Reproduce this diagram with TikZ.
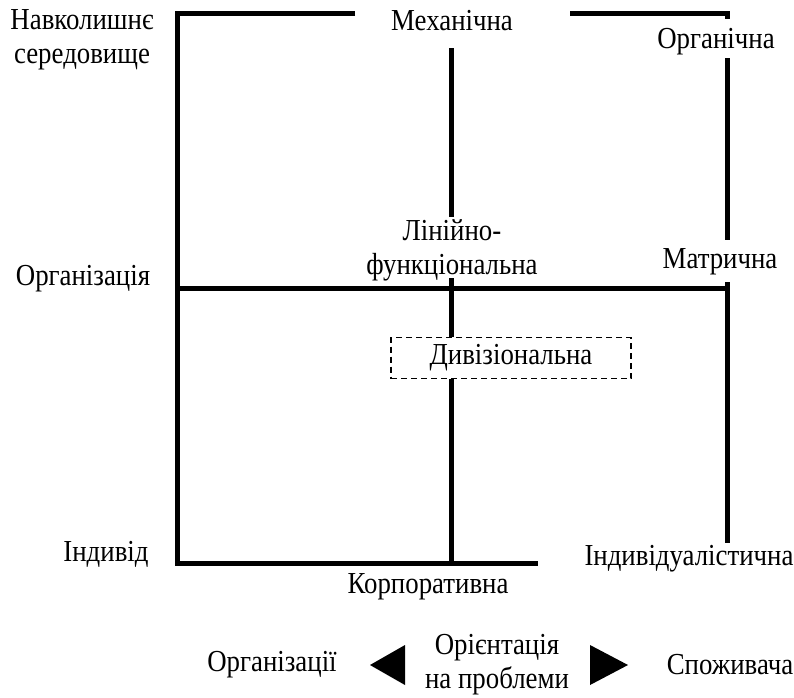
\documentclass[tikz,border=0pt]{standalone}
\usepackage{fontspec}
\setmainfont{Liberation Serif}[FakeStretch=0.88]
\usetikzlibrary{positioning}
\tikzset{%
axis/.style={line width=5pt},
lbl/.style={font=\fontsize{30.5}{34}\selectfont,inner sep=1pt,align=center},
divbox/.style={draw,dash pattern=on 6pt off 4pt,line width=1.8pt,minimum width=240pt,minimum height=41pt,font=\fontsize{30.5}{34}\selectfont},
pointer/.style={fill=black}
}

\begin{document}
\begin{tikzpicture}[x=1pt,y=-1pt]

    \useasboundingbox (0,0) rectangle (794,697);

    % corners and line ends
    \coordinate (topa) at (355,13);
    \coordinate (tl) at (177,13);
    \coordinate (bl) at (177,563);
    \coordinate (bend) at (538,563);
    \coordinate (topb) at (570,13);
    \coordinate (tr) at (727,13);
    \coordinate (stub) at (727,19);
    \coordinate (ra) at (727,58);
    \coordinate (rb) at (727,240);
    \coordinate (rc) at (727,282);
    \coordinate (rd) at (727,543);
    \coordinate (ml) at (177,288);
    \coordinate (mr) at (727,288);
    \coordinate (va) at (451,48);
    \coordinate (vb) at (451,217);
    \coordinate (vc) at (451,278);
    \coordinate (vbot) at (451,563);

    % labels
    \node[lbl] (env) at (82,40) {Навколишнє\\середовище};
    \node[lbl] (mech) at (452,21) {Механічна};
    \node[lbl] (org) at (716,42) {Органічна};
    \node[lbl] (lin) at (452,250) {Лінійно-\\функціональна};
    \node[lbl] (matr) at (720,262) {Матрична};
    \node[lbl] (orgn) at (83,279) {Організація};
    \node[divbox] (div) at (511,358) {Дивізіональна};
    \node[lbl] (ind) at (106,554) {Індивід};
    \node[lbl] (corp) at (428,587) {Корпоративна};
    \node[lbl] (indiv) at (689,559) {Індивідуалістична};
    \node[lbl] (orgs) at (272,665) {Організації};
    \node[lbl] (orient) at (497,665) {Орієнтація\\на проблеми};
    \node[lbl] (cons) at (730,665) {Споживача};

    % lines
    \draw[axis] (topa) -- (tl) -- (bl) -- (bend);
    \draw[axis] (topb) -- (tr) -- (stub);
    \draw[axis] (ra) -- (rb);
    \draw[axis] (rc) -- (rd);
    \draw[axis] (ml) -- (mr);
    \draw[axis] (va) -- (vb);
    \draw[axis] (vc) -- (div.north -| vc);
    \draw[axis] (div.south -| vc) -- (vbot);

    % arrows
    \fill[pointer] (370,665) -- (405,645) -- (405,685) -- cycle;
    \fill[pointer] (628,665) -- (590,645) -- (590,685) -- cycle;

  \end{tikzpicture}
\end{document}
